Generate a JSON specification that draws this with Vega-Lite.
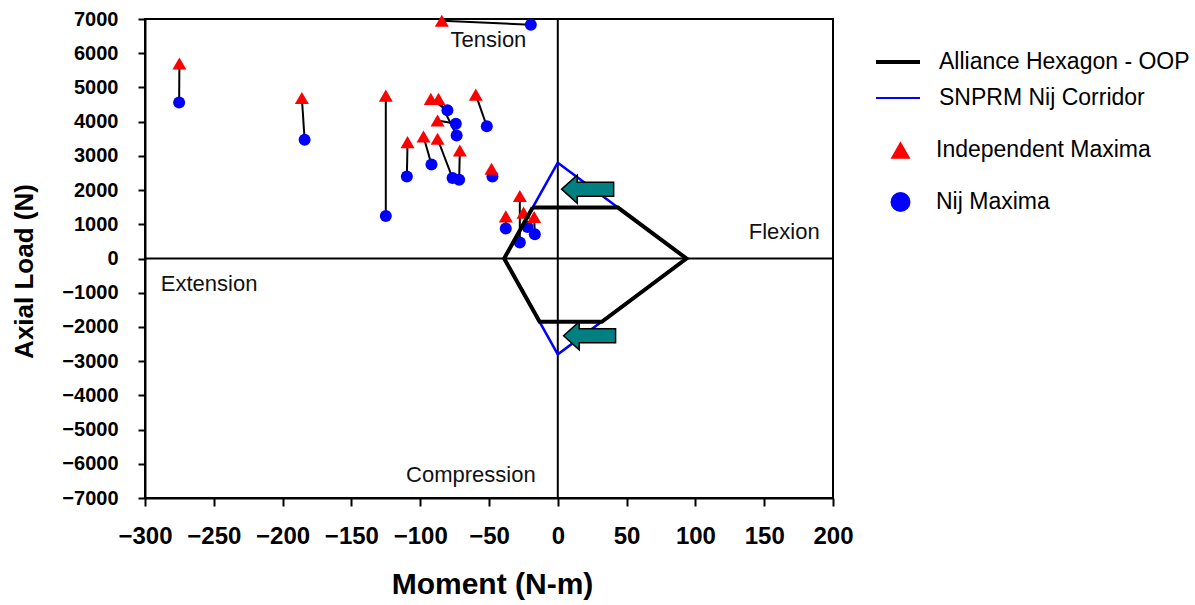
{
  "$schema": "https://vega.github.io/schema/vega-lite/v6.json",
  "width": 688,
  "height": 479,
  "autosize": "none",
  "padding": {"left": 145, "top": 19, "right": 362, "bottom": 107},
  "config": {
    "font": "Liberation Sans",
    "view": {"stroke": "black", "strokeWidth": 2},
    "axis": {"grid": false, "labelOverlap": false, "domainColor": "black", "domainWidth": 2, "tickColor": "black", "tickWidth": 2, "labelColor": "black", "titleColor": "black", "labelFontWeight": "bold", "titleFontWeight": "bold"}
  },
  "datasets": {
    "zero": [
      {"line": "v", "m": 0, "f": -7000},
      {"line": "v", "m": 0, "f": 7000},
      {"line": "h", "m": -300, "f": 0},
      {"line": "h", "m": 200, "f": 0}
    ],
    "pts": [
      {"pair": 1, "kind": "Independent Maxima", "m": -275, "f": 5700},
      {"pair": 1, "kind": "Nij Maxima", "m": -275.2, "f": 4560},
      {"pair": 2, "kind": "Independent Maxima", "m": -186, "f": 4690},
      {"pair": 2, "kind": "Nij Maxima", "m": -184, "f": 3470},
      {"pair": 3, "kind": "Independent Maxima", "m": -125, "f": 4760},
      {"pair": 3, "kind": "Nij Maxima", "m": -125, "f": 1240},
      {"pair": 4, "kind": "Independent Maxima", "m": -109.2, "f": 3400},
      {"pair": 4, "kind": "Nij Maxima", "m": -109.7, "f": 2400},
      {"pair": 5, "kind": "Independent Maxima", "m": -97.6, "f": 3566},
      {"pair": 5, "kind": "Nij Maxima", "m": -91.8, "f": 2750},
      {"pair": 6, "kind": "Independent Maxima", "m": -87.4, "f": 3500},
      {"pair": 6, "kind": "Nij Maxima", "m": -76.5, "f": 2350},
      {"pair": 7, "kind": "Independent Maxima", "m": -71.2, "f": 3157},
      {"pair": 7, "kind": "Nij Maxima", "m": -71.7, "f": 2303},
      {"pair": 8, "kind": "Independent Maxima", "m": -92.3, "f": 4665},
      {"pair": 8, "kind": "Nij Maxima", "m": -80.2, "f": 4330},
      {"pair": 9, "kind": "Independent Maxima", "m": -86.7, "f": 4665},
      {"pair": 9, "kind": "Nij Maxima", "m": -73.5, "f": 3595},
      {"pair": 10, "kind": "Independent Maxima", "m": -87.4, "f": 4032},
      {"pair": 10, "kind": "Nij Maxima", "m": -74.1, "f": 3936},
      {"pair": 11, "kind": "Independent Maxima", "m": -59.6, "f": 4790},
      {"pair": 11, "kind": "Nij Maxima", "m": -51.6, "f": 3866},
      {"pair": 12, "kind": "Independent Maxima", "m": -48.2, "f": 2624},
      {"pair": 12, "kind": "Nij Maxima", "m": -47.5, "f": 2400},
      {"pair": 13, "kind": "Independent Maxima", "m": -84.3, "f": 6950},
      {"pair": 13, "kind": "Nij Maxima", "m": -19.6, "f": 6830},
      {"pair": 14, "kind": "Independent Maxima", "m": -37.8, "f": 1233},
      {"pair": 14, "kind": "Nij Maxima", "m": -37.8, "f": 880},
      {"pair": 15, "kind": "Independent Maxima", "m": -27.6, "f": 1825},
      {"pair": 15, "kind": "Nij Maxima", "m": -27.6, "f": 466},
      {"pair": 16, "kind": "Independent Maxima", "m": -24.9, "f": 1341},
      {"pair": 16, "kind": "Nij Maxima", "m": -22, "f": 921},
      {"pair": 17, "kind": "Independent Maxima", "m": -17.2, "f": 1213},
      {"pair": 17, "kind": "Nij Maxima", "m": -16.7, "f": 708}
    ],
    "shapes": [
      {"series": "SNPRM Nij Corridor", "ord": 0, "m": 0, "f": 2800},
      {"series": "SNPRM Nij Corridor", "ord": 1, "m": 93.5, "f": 0},
      {"series": "SNPRM Nij Corridor", "ord": 2, "m": 0, "f": -2800},
      {"series": "SNPRM Nij Corridor", "ord": 3, "m": -39, "f": 0},
      {"series": "SNPRM Nij Corridor", "ord": 4, "m": 0, "f": 2800},
      {"series": "Alliance Hexagon - OOP", "ord": 0, "m": -18.25, "f": 1490},
      {"series": "Alliance Hexagon - OOP", "ord": 1, "m": 43.75, "f": 1490},
      {"series": "Alliance Hexagon - OOP", "ord": 2, "m": 93.5, "f": 0},
      {"series": "Alliance Hexagon - OOP", "ord": 3, "m": 32, "f": -1850},
      {"series": "Alliance Hexagon - OOP", "ord": 4, "m": -13.2, "f": -1850},
      {"series": "Alliance Hexagon - OOP", "ord": 5, "m": -39, "f": 0},
      {"series": "Alliance Hexagon - OOP", "ord": 6, "m": -18.25, "f": 1490}
    ],
    "notes": [
      {"label": "Tension", "m": -50.4, "f": 6400},
      {"label": "Flexion", "m": 164.5, "f": 775},
      {"label": "Extension", "m": -253.4, "f": -750},
      {"label": "Compression", "m": -63.2, "f": -6320}
    ],
    "arrows": [
      {"m": 21.7, "f": 2026},
      {"m": 23.1, "f": -2256}
    ]
  },
  "encoding": {
    "x": {"field": "m", "type": "quantitative", "title": "Moment (N-m)", "scale": {"domain": [-300, 200], "nice": false, "zero": false},
      "axis": {"values": [-300, -250, -200, -150, -100, -50, 0, 50, 100, 150, 200], "format": "d", "tickSize": 8, "labelFontSize": 24, "labelPadding": 18, "labelFlush": false, "labelOverlap": false, "titleFontSize": 30, "titleX": 347, "titleY": 86, "titleBaseline": "middle", "titleAlign": "center"}},
    "y": {"field": "f", "type": "quantitative", "title": "Axial Load (N)", "scale": {"domain": [-7000, 7000], "nice": false, "zero": false},
      "axis": {"values": [-7000, -6000, -5000, -4000, -3000, -2000, -1000, 0, 1000, 2000, 3000, 4000, 5000, 6000, 7000], "format": "d", "tickSize": 7, "labelFontSize": 20, "labelPadding": 20, "labelOverlap": false, "labelSeparation": 0, "titleFontSize": 26, "titleX": -121, "titleY": 252, "titleAngle": -90, "titleBaseline": "middle", "titleAlign": "center"}}
  },
  "layer": [
    {
      "data": {"name": "zero"},
      "mark": {"type": "line", "color": "black", "strokeWidth": 2},
      "encoding": {"detail": {"field": "line", "type": "nominal"}}
    },
    {
      "data": {"name": "pts"},
      "mark": {"type": "line", "color": "black", "strokeWidth": 2},
      "encoding": {"detail": {"field": "pair", "type": "nominal"}}
    },
    {
      "data": {"name": "pts"},
      "transform": [{"filter": "datum.kind === 'Nij Maxima'"}],
      "mark": {"type": "point", "filled": true, "opacity": 1, "size": 144, "strokeWidth": 0},
      "encoding": {
        "shape": {"field": "kind", "type": "nominal", "scale": {"domain": ["Independent Maxima", "Nij Maxima"], "range": ["triangle-up", "circle"]},
          "legend": {"title": null, "orient": "none", "legendX": 744, "legendY": 105, "symbolSize": 400, "clipHeight": 52, "rowPadding": 0, "labelOffset": 24, "labelFontSize": 23, "labelColor": "black", "labelLimit": 400, "padding": 0, "symbolStrokeWidth": 0}},
        "fill": {"field": "kind", "type": "nominal", "scale": {"domain": ["Independent Maxima", "Nij Maxima"], "range": ["#FF0000", "#0000FF"]},
          "legend": {"title": null, "orient": "none", "legendX": 744, "legendY": 105, "symbolSize": 400, "clipHeight": 52, "rowPadding": 0, "labelOffset": 24, "labelFontSize": 23, "labelColor": "black", "labelLimit": 400, "padding": 0, "symbolStrokeWidth": 0}}
      }
    },
    {
      "data": {"name": "pts"},
      "transform": [{"filter": "datum.kind === 'Independent Maxima'"}],
      "mark": {"type": "point", "filled": true, "opacity": 1, "size": 196, "strokeWidth": 0},
      "encoding": {
        "shape": {"field": "kind", "type": "nominal", "scale": {"domain": ["Independent Maxima", "Nij Maxima"], "range": ["triangle-up", "circle"]},
          "legend": {"title": null, "orient": "none", "legendX": 744, "legendY": 105, "symbolSize": 400, "clipHeight": 52, "rowPadding": 0, "labelOffset": 24, "labelFontSize": 23, "labelColor": "black", "labelLimit": 400, "padding": 0, "symbolStrokeWidth": 0}},
        "fill": {"field": "kind", "type": "nominal", "scale": {"domain": ["Independent Maxima", "Nij Maxima"], "range": ["#FF0000", "#0000FF"]},
          "legend": {"title": null, "orient": "none", "legendX": 744, "legendY": 105, "symbolSize": 400, "clipHeight": 52, "rowPadding": 0, "labelOffset": 24, "labelFontSize": 23, "labelColor": "black", "labelLimit": 400, "padding": 0, "symbolStrokeWidth": 0}}
      }
    },
    {
      "data": {"name": "shapes"},
      "transform": [{"filter": "datum.series === 'SNPRM Nij Corridor'"}],
      "mark": {"type": "line", "strokeWidth": 2.5},
      "encoding": {
        "order": {"field": "ord", "type": "quantitative"},
        "stroke": {"field": "series", "type": "nominal", "scale": {"domain": ["Alliance Hexagon - OOP", "SNPRM Nij Corridor"], "range": ["#000000", "#0000FF"]},
          "legend": {"title": null, "orient": "none", "legendX": 741.5, "legendY": 31.5, "symbolType": "stroke", "symbolSize": 1936, "rowPadding": 12, "labelOffset": 29.5, "labelFontSize": 23, "labelColor": "black", "labelLimit": 400, "padding": 0, "symbolStrokeWidth": 3,
            "encode": {"symbols": {"update": {"strokeWidth": {"signal": "datum.value === 'Alliance Hexagon - OOP' ? 4 : 2"}}}}}}
      }
    },
    {
      "data": {"name": "shapes"},
      "transform": [{"filter": "datum.series === 'Alliance Hexagon - OOP'"}],
      "mark": {"type": "line", "strokeWidth": 4},
      "encoding": {
        "order": {"field": "ord", "type": "quantitative"},
        "stroke": {"field": "series", "type": "nominal", "scale": {"domain": ["Alliance Hexagon - OOP", "SNPRM Nij Corridor"], "range": ["#000000", "#0000FF"]},
          "legend": {"title": null, "orient": "none", "legendX": 741.5, "legendY": 31.5, "symbolType": "stroke", "symbolSize": 1936, "rowPadding": 12, "labelOffset": 29.5, "labelFontSize": 23, "labelColor": "black", "labelLimit": 400, "padding": 0, "symbolStrokeWidth": 3,
            "encode": {"symbols": {"update": {"strokeWidth": {"signal": "datum.value === 'Alliance Hexagon - OOP' ? 4 : 2"}}}}}}
      }
    },
    {
      "data": {"name": "arrows"},
      "mark": {"type": "point", "shape": "M -1 0 L -0.4 -0.54 L -0.4 -0.27 L 1 -0.27 L 1 0.27 L -0.4 0.27 L -0.4 0.54 Z", "size": 2704, "filled": true, "fill": "#008080", "stroke": "black", "strokeWidth": 1.5, "opacity": 1}
    },
    {
      "data": {"name": "notes"},
      "mark": {"type": "text", "fontSize": 22, "color": "#111111", "align": "center", "baseline": "middle"},
      "encoding": {"text": {"field": "label", "type": "nominal"}}
    }
  ]
}
